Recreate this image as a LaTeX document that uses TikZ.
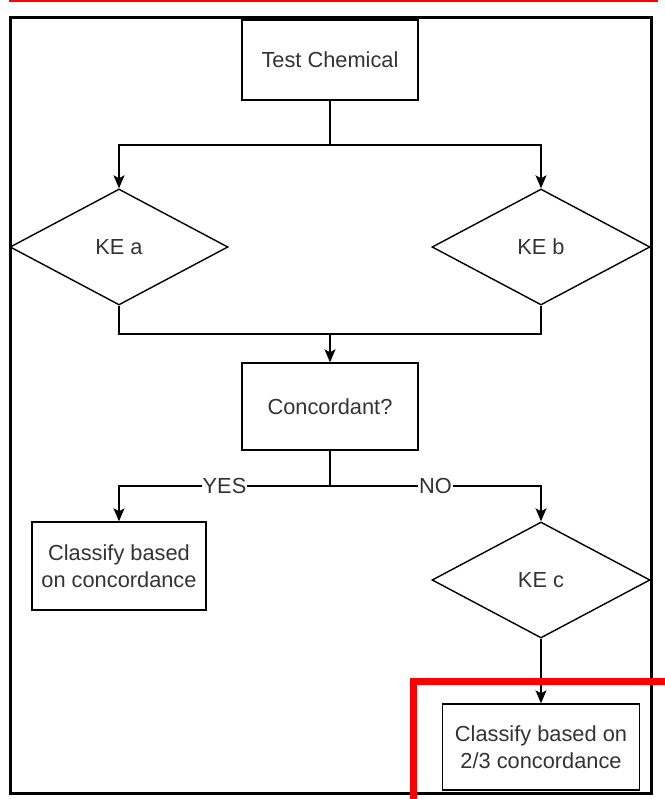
\documentclass[tikz,border=0pt]{standalone}
\usepackage{fontspec}
\setmainfont{Liberation Sans}
\usepackage{tikz}
\usetikzlibrary{arrows.meta,shapes.geometric}

\definecolor{txtgray}{HTML}{333333}
\definecolor{markred}{HTML}{FF0000}

\begin{document}
\begin{tikzpicture}[x=1pt,y=-1pt]
		\tikzstyle{every path}=[line width=1.4pt]
		\tikzstyle{every node}=[font=\fontsize{21.8}{26.5}\selectfont,text=txtgray]
		
		\tikzstyle{stepbox}=[draw,rectangle,align=center,inner sep=0pt]
		\tikzstyle{kebox}=[draw,diamond,inner sep=0pt,minimum width=218pt,minimum height=116pt]
		\tikzstyle{flow}=[-{Stealth[length=13pt,width=11pt,inset=3pt]}]
		
		\useasboundingbox (0,0) rectangle (664,799);
		
		%% Frame
		\draw[markred,line width=2pt] (9,1) -- (658,1);
		\draw[line width=3pt] (10,18) rectangle (651,793);
		
		%% Boxes
		\node [stepbox,minimum width=176pt,minimum height=80pt] (test) at (330,60) {Test Chemical};
		\node [kebox] (kea) at (119,247) {KE a};
		\node [kebox] (keb) at (541,247) {KE b};
		\node [stepbox,minimum width=176pt,minimum height=87pt] (conc) at (330,406.5) {Concordant?};
		\node [stepbox,minimum width=174pt,minimum height=88pt] (clsa) at (119,566) {Classify based\\on concordance};
		\node [kebox] (kec) at (541,580) {KE c};
		\node [stepbox,minimum width=197pt,minimum height=86pt] (clsb) at (541,747) {Classify based on\\2/3 concordance};
		
		\coordinate (fork) at (330,145);
		\coordinate (merge) at (330,334);
		\coordinate (split) at (330,486);
		
		%% Connectors
		\draw (test.south) -- (fork);
		\draw [flow] (fork) -| (kea.north);
		\draw [flow] (fork) -| (keb.north);
		\draw (kea.south) |- (merge) -| (keb.south);
		\draw [flow] (merge) -- (conc.north);
		\draw (conc.south) -- (split);
		\draw [flow] (split) -| node [pos=0.25,fill=white,inner sep=1pt] {YES} (clsa.north);
		\draw [flow] (split) -| node [pos=0.25,fill=white,inner sep=1pt] {NO} (kec.north);
		\draw [flow] (kec.south) -- (clsb.north);
		
		%% Highlight
		\draw[markred,line width=7pt] (413.5,681) rectangle (675,810);
		
\end{tikzpicture}
\end{document}
